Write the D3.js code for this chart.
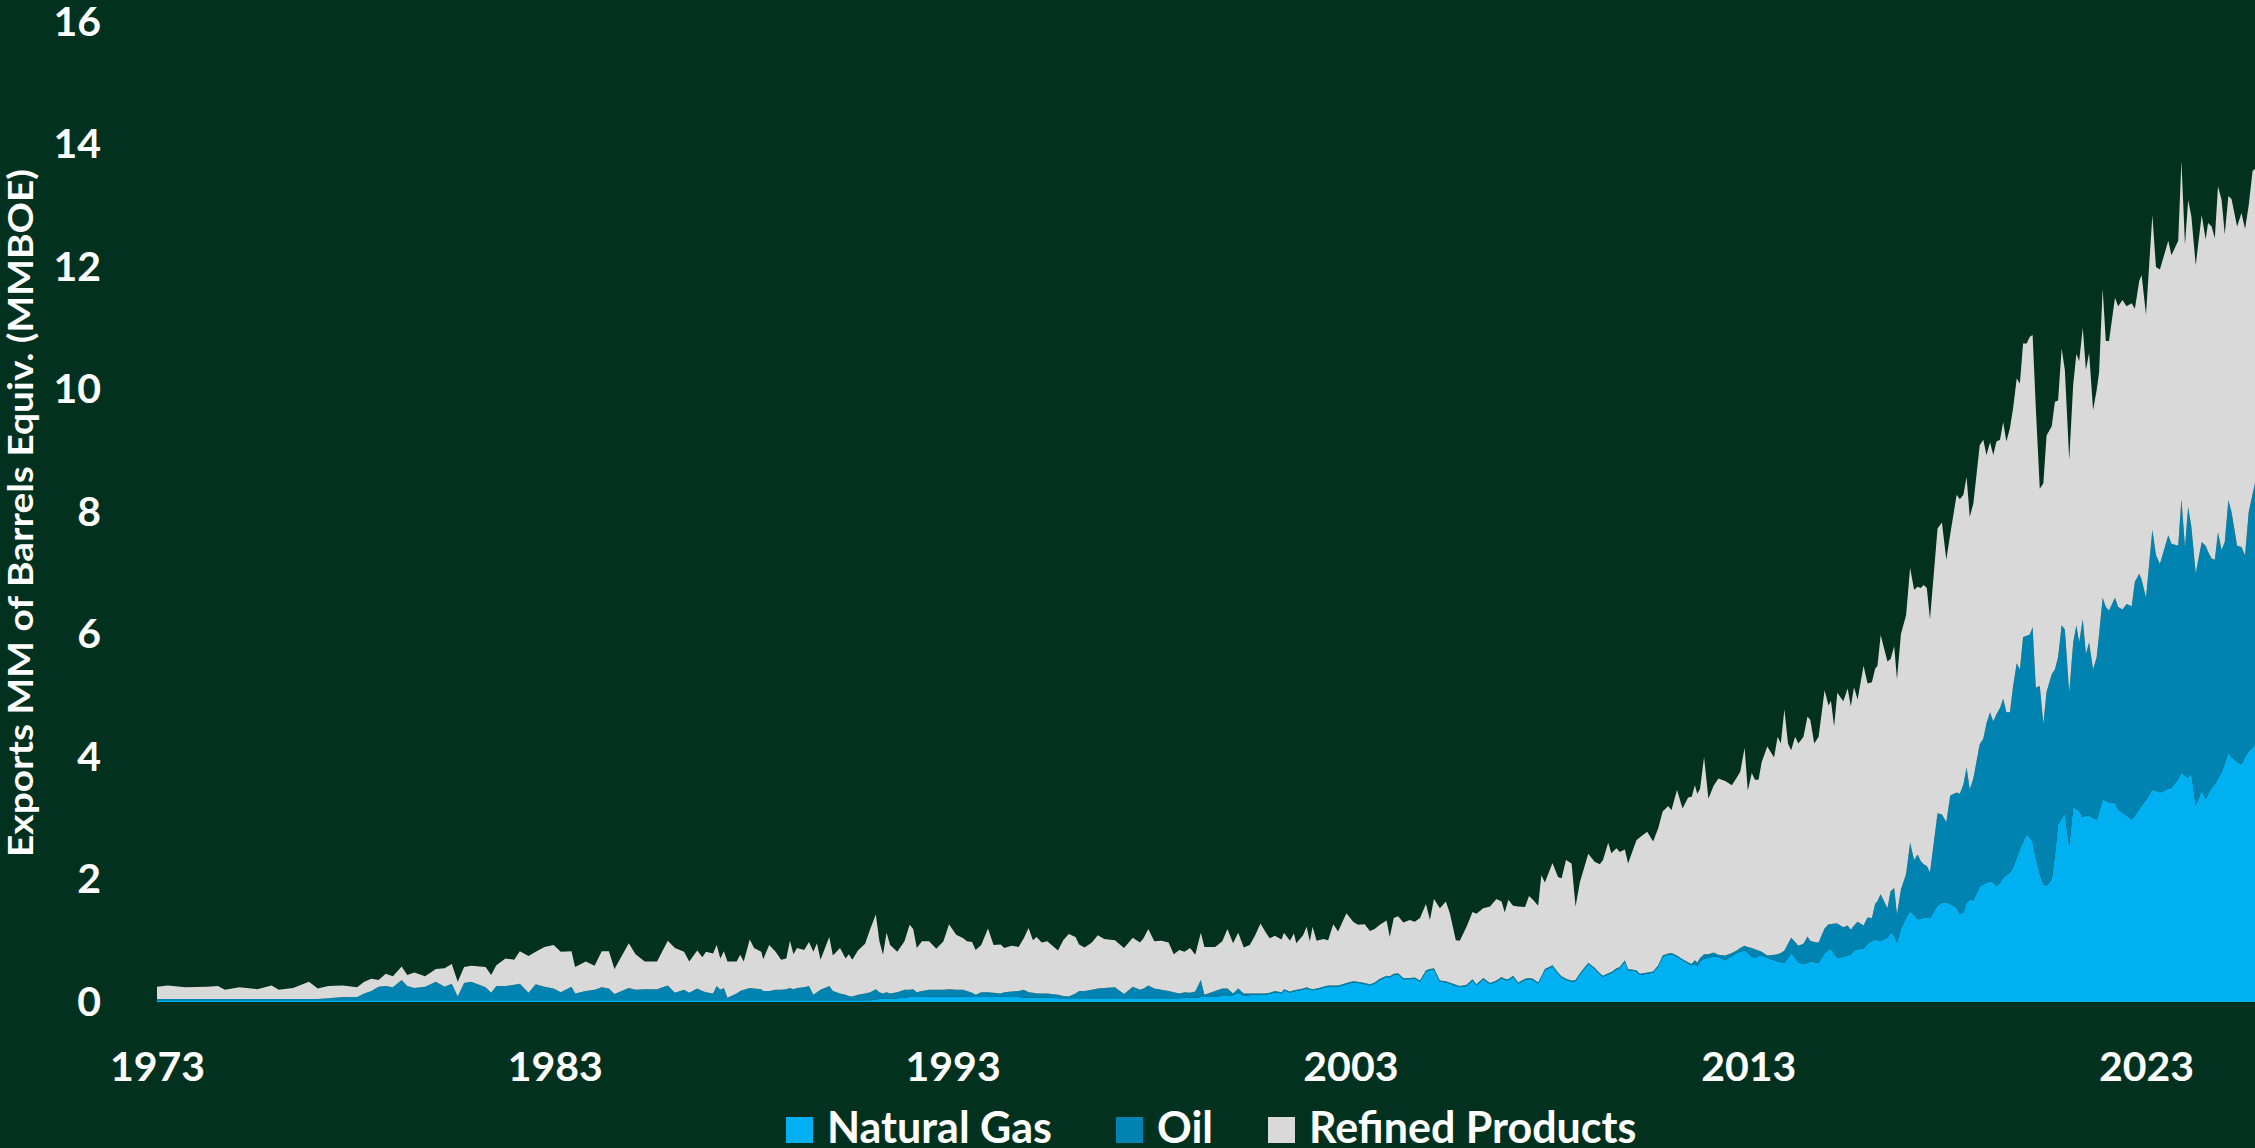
<!DOCTYPE html>
<html>
<head>
<meta charset="utf-8">
<script src="https://cdn.jsdelivr.net/npm/d3@7"></script>
<style>
  html, body { margin: 0; padding: 0; background: #03311f; overflow: hidden; }
</style>
</head>
<body>
<script>
// US energy exports, stacked by type (MMBOE)
const dates = [
  1973.00,1973.27,1973.72,1974.26,1974.53,1974.71,1975.07,1975.52,1975.88,1976.06,
  1976.42,1976.82,1977.04,1977.31,1977.67,1978.03,1978.21,1978.39,1978.57,1978.75,
  1978.93,1979.15,1979.29,1979.47,1979.74,1980.01,1980.23,1980.41,1980.56,1980.72,
  1980.90,1981.26,1981.40,1981.53,1981.76,1981.98,1982.12,1982.34,1982.52,1982.74,
  1982.97,1983.15,1983.42,1983.51,1983.78,1984.00,1984.18,1984.36,1984.50,1984.86,
  1985.03,1985.26,1985.57,1985.84,1986.02,1986.25,1986.38,1986.58,1986.71,1986.80,
  1986.98,1987.07,1987.16,1987.25,1987.34,1987.57,1987.66,1987.75,1987.90,1988.01,
  1988.19,1988.24,1988.39,1988.55,1988.69,1988.82,1988.91,1989.00,1989.09,1989.27,
  1989.39,1989.50,1989.59,1989.68,1989.90,1989.99,1990.17,1990.31,1990.39,1990.48,
  1990.62,1990.80,1990.93,1991.07,1991.16,1991.25,1991.34,1991.43,1991.61,1991.79,
  1991.92,1992.01,1992.10,1992.23,1992.41,1992.59,1992.77,1992.91,1993.09,1993.27,
  1993.36,1993.49,1993.58,1993.72,1993.89,1994.03,1994.21,1994.30,1994.48,1994.66,
  1994.79,1994.91,1995.02,1995.11,1995.24,1995.38,1995.65,1995.78,1995.92,1996.09,
  1996.18,1996.32,1996.50,1996.65,1996.81,1997.08,1997.31,1997.53,1997.71,1997.80,
  1997.92,1998.07,1998.25,1998.43,1998.56,1998.70,1998.83,1998.97,1999.10,1999.24,
  1999.33,1999.60,1999.78,1999.91,2000.05,2000.18,2000.32,2000.47,2000.60,2000.74,
  2000.85,2000.97,2001.10,2001.27,2001.33,2001.48,2001.58,2001.64,2001.81,2001.90,
  2001.98,2002.05,2002.15,2002.32,2002.44,2002.57,2002.69,2002.90,2003.07,2003.19,
  2003.36,2003.49,2003.61,2003.74,2003.91,2003.99,2004.09,2004.20,2004.33,2004.49,
  2004.62,2004.75,2004.90,2005.00,2005.10,2005.25,2005.40,2005.50,2005.65,2005.75,
  2005.92,2006.07,2006.17,2006.34,2006.51,2006.67,2006.80,2006.88,2006.97,2007.09,
  2007.22,2007.39,2007.49,2007.59,2007.72,2007.80,2007.89,2008.08,2008.22,2008.31,
  2008.42,2008.56,2008.66,2008.77,2008.98,2009.14,2009.27,2009.35,2009.48,2009.56,
  2009.69,2009.77,2009.90,2009.98,2010.19,2010.28,2010.46,2010.61,2010.74,2010.85,
  2010.99,2011.07,2011.21,2011.35,2011.49,2011.58,2011.66,2011.72,2011.79,2011.89,
  2012.00,2012.13,2012.25,2012.42,2012.59,2012.71,2012.80,2012.91,2012.99,2013.09,
  2013.17,2013.26,2013.34,2013.48,2013.65,2013.74,2013.82,2013.91,2014.00,2014.08,
  2014.18,2014.26,2014.39,2014.49,2014.56,2014.66,2014.77,2014.92,2015.02,2015.08,
  2015.16,2015.24,2015.39,2015.50,2015.58,2015.66,2015.75,2015.90,2016.00,2016.11,
  2016.19,2016.25,2016.33,2016.50,2016.58,2016.67,2016.74,2016.84,2016.97,2017.07,
  2017.17,2017.26,2017.34,2017.41,2017.49,2017.57,2017.76,2017.87,2017.98,2018.08,
  2018.24,2018.32,2018.41,2018.49,2018.57,2018.66,2018.82,2018.91,2018.99,2019.08,
  2019.16,2019.24,2019.33,2019.41,2019.49,2019.58,2019.66,2019.75,2019.83,2019.91,
  2020.00,2020.08,2020.15,2020.23,2020.33,2020.42,2020.50,2020.63,2020.71,2020.79,
  2020.88,2020.96,2021.07,2021.17,2021.25,2021.32,2021.41,2021.49,2021.57,2021.67,
  2021.76,2021.82,2021.91,2021.99,2022.07,2022.22,2022.30,2022.41,2022.51,2022.64,
  2022.72,2022.83,2022.89,2023.00,2023.16,2023.25,2023.35,2023.56,2023.64,2023.81,
  2023.89,2023.98,2024.06,2024.14,2024.25,2024.40,2024.50,2024.56,2024.65,2024.73,
  2024.81,2024.90,2024.98,2025.07,2025.15,2025.29,2025.40,2025.49,2025.58,2025.68,
  2025.74
];

const naturalGas = [
  .03,.03,.03,.03,.03,.03,.03,.03,.03,.03,
  .03,.03,.03,.03,.03,.03,.03,.03,.03,.03,
  .03,.03,.03,.03,.03,.03,.03,.03,.03,.03,
  .03,.03,.03,.03,.03,.03,.03,.03,.03,.03,
  .03,.03,.03,.03,.03,.03,.03,.03,.03,.03,
  .03,.03,.03,.03,.03,.03,.03,.03,.03,.03,
  .03,.03,.03,.03,.03,.03,.03,.03,.03,.03,
  .03,.03,.03,.03,.03,.03,.03,.03,.03,.03,
  .03,.03,.03,.03,.03,.03,.03,.03,.03,.03,
  .03,.03,.03,.04,.05,.05,.05,.05,.06,.07,
  .08,.08,.08,.08,.09,.09,.09,.09,.09,.09,
  .09,.08,.08,.08,.08,.08,.08,.08,.08,.08,
  .07,.07,.07,.07,.07,.07,.06,.06,.06,.06,
  .06,.06,.06,.06,.06,.06,.06,.06,.06,.06,
  .06,.06,.06,.06,.06,.06,.07,.07,.07,.08,
  .08,.09,.10,.10,.11,.15,.10,.11,.12,.12,
  .12,.13,.16,.14,.19,.15,.17,.18,.20,.22,
  .20,.19,.20,.23,.25,.25,.25,.29,.32,.31,
  .29,.27,.30,.36,.41,.40,.44,.45,.37,.37,
  .38,.33,.50,.52,.53,.33,.32,.30,.26,.24,
  .26,.35,.27,.37,.29,.33,.39,.36,.35,.41,
  .30,.36,.37,.36,.30,.40,.52,.58,.46,.40,
  .36,.33,.34,.45,.62,.54,.45,.41,.45,.47,
  .53,.55,.66,.52,.50,.44,.46,.48,.58,.74,
  .77,.78,.74,.68,.63,.60,.62,.58,.66,.71,
  .72,.74,.73,.68,.75,.80,.82,.84,.80,.74,
  .72,.75,.76,.72,.68,.66,.65,.64,.72,.81,
  .72,.65,.62,.64,.66,.65,.64,.80,.85,.87,
  .78,.72,.74,.76,.78,.84,.86,.87,.95,1.00,
  1.02,1.01,1.00,1.05,1.14,1.08,.97,1.20,1.38,1.48,
  1.42,1.35,1.36,1.38,1.37,1.37,1.58,1.62,1.63,1.60,
  1.54,1.44,1.46,1.63,1.67,1.66,1.89,1.92,1.95,1.97,
  1.95,1.89,1.95,2.03,2.07,2.12,2.20,2.36,2.50,2.62,
  2.74,2.68,2.62,2.35,2.10,1.92,1.90,2.00,2.40,2.90,
  3.00,3.07,2.55,3.19,3.15,3.12,3.02,3.04,3.05,3.00,
  2.98,3.10,3.31,3.28,3.26,3.25,3.15,3.09,3.05,2.98,
  3.05,3.15,3.21,3.30,3.47,3.45,3.42,3.48,3.50,3.65,
  3.75,3.70,3.66,3.74,3.21,3.45,3.31,3.40,3.50,3.56,
  3.65,3.75,3.90,4.07,4.00,3.92,3.88,4.00,4.10,4.15,
  4.23
];

const oil = [
  .02,.02,.02,.02,.02,.02,.02,.02,.02,.02,
  .02,.02,.02,.03,.05,.05,.11,.15,.22,.23,
  .21,.33,.23,.20,.22,.30,.22,.27,.06,.28,
  .30,.21,.12,.23,.23,.25,.27,.12,.26,.22,
  .19,.13,.22,.11,.15,.17,.21,.19,.10,.20,
  .17,.18,.18,.24,.12,.17,.12,.19,.15,.13,
  .11,.23,.17,.20,.04,.11,.15,.17,.20,.19,
  .18,.15,.15,.17,.17,.18,.20,.18,.20,.21,
  .23,.09,.13,.17,.23,.15,.11,.09,.07,.06,
  .09,.11,.13,.17,.11,.09,.11,.09,.10,.13,
  .12,.13,.08,.10,.11,.11,.11,.12,.11,.11,
  .09,.07,.04,.08,.08,.07,.06,.08,.09,.10,
  .13,.09,.08,.07,.07,.07,.06,.04,.03,.08,
  .12,.12,.14,.16,.17,.18,.07,.19,.14,.16,
  .21,.16,.14,.12,.10,.08,.09,.08,.10,.28,
  .04,.09,.12,.12,.03,.07,.04,.03,.02,.02,
  .02,.02,.02,.02,.02,.02,.02,.02,.02,.02,
  .02,.02,.02,.02,.02,.02,.02,.02,.02,.02,
  .02,.02,.02,.02,.02,.02,.02,.02,.02,.02,
  .02,.02,.02,.02,.02,.02,.02,.02,.02,.02,
  .02,.02,.02,.02,.02,.02,.02,.02,.02,.02,
  .02,.02,.02,.02,.02,.02,.02,.02,.02,.02,
  .02,.02,.02,.02,.02,.02,.02,.02,.02,.02,
  .02,.02,.02,.02,.02,.02,.02,.02,.02,.02,
  .02,.02,.02,.02,.02,.02,.06,.06,.06,.07,
  .06,.07,.04,.08,.05,.04,.06,.08,.10,.14,
  .14,.09,.06,.04,.09,.12,.15,.20,.23,.24,
  .26,.27,.33,.43,.34,.33,.33,.40,.42,.40,
  .50,.56,.48,.49,.40,.41,.45,.38,.43,.37,
  .58,.64,.76,.48,.67,.78,.46,.64,.71,1.12,
  .90,1.06,.94,.87,.85,.75,1.50,1.44,1.31,1.77,
  1.88,1.96,2.09,2.20,1.80,1.99,2.32,2.38,2.60,2.76,
  2.63,2.81,2.85,2.92,2.66,2.61,2.96,3.17,2.93,3.34,
  3.24,3.32,3.50,2.78,3.06,2.62,3.16,3.35,3.03,2.73,
  3.15,3.01,2.50,2.68,3.00,2.75,3.23,2.64,2.82,2.43,
  2.65,2.90,3.29,3.17,3.13,3.35,3.30,3.32,3.45,3.48,
  3.81,3.84,3.69,3.30,4.24,3.85,3.73,4.14,3.98,3.80,
  4.46,3.73,4.42,4.02,3.79,4.06,4.14,3.95,3.74,3.66,
  4.02,3.63,3.61,4.12,4.00,3.53,3.55,3.29,3.89,4.15,
  4.24
];

const refinedProducts = [
  .20,.22,.19,.20,.21,.15,.19,.16,.22,.15,
  .18,.28,.17,.20,.19,.16,.19,.20,.11,.20,
  .18,.22,.18,.25,.17,.21,.30,.32,.24,.26,
  .26,.33,.29,.34,.45,.41,.53,.60,.53,.65,
  .71,.66,.58,.43,.48,.39,.59,.61,.41,.73,
  .58,.45,.45,.73,.73,.62,.51,.62,.55,.66,
  .65,.67,.51,.60,.59,.52,.59,.46,.79,.66,
  .61,.52,.75,.62,.49,.50,.77,.57,.65,.61,
  .72,.70,.80,.49,.80,.58,.74,.59,.68,.60,
  .72,.81,1.03,1.22,.83,.63,.97,.79,.66,.79,
  1.06,.98,.72,.81,.79,.67,.79,1.06,.90,.84,
  .81,.83,.73,.77,1.04,.78,.80,.72,.75,.72,
  .84,1.05,.86,.92,.83,.85,.72,.91,1.02,.92,
  .76,.71,.77,.87,.80,.77,.75,.80,.77,.82,
  .92,.77,.80,.79,.62,.71,.66,.73,.60,.77,
  .78,.72,.77,.97,.82,.91,.75,.79,.94,1.14,
  1.02,.89,.90,.86,.92,.83,.93,.76,.87,.99,
  .77,1.02,.78,.78,.74,1.00,.88,1.14,.97,.93,
  .96,.87,.87,.88,.90,.64,.91,.93,.91,.95,
  .91,1.02,1.08,.80,1.13,1.18,1.30,1.13,.73,.74,
  .95,1.10,1.15,1.14,1.25,1.33,1.23,1.08,1.30,1.14,
  1.24,1.17,1.34,1.29,1.25,1.65,1.41,1.67,1.56,1.60,
  1.94,1.91,1.20,1.49,1.78,1.73,1.78,1.89,2.13,1.94,
  1.96,1.88,1.81,1.72,2.12,2.23,2.30,2.12,2.24,2.35,
  2.41,2.33,2.70,2.46,2.69,2.73,2.86,2.76,2.76,3.22,
  2.54,2.72,2.88,2.85,2.74,2.82,2.88,3.23,2.55,2.86,
  2.77,2.79,3.10,3.41,3.22,3.55,3.42,3.94,3.27,3.06,
  3.35,3.30,3.38,3.59,3.61,3.24,3.36,3.89,3.57,3.65,
  3.22,3.77,3.69,3.87,3.65,3.89,3.63,4.24,3.82,3.85,
  3.84,3.84,4.23,4.03,3.79,3.95,3.84,4.17,4.23,4.49,
  4.41,4.37,4.46,4.56,4.54,4.13,4.65,4.77,4.28,4.27,
  4.86,4.81,4.73,4.74,4.45,4.49,4.88,4.88,4.38,4.41,
  4.35,4.45,4.38,4.52,4.42,4.64,4.54,4.65,4.67,4.79,
  4.77,4.86,4.77,4.57,3.22,3.93,4.19,4.05,4.37,4.19,
  4.52,4.24,3.80,4.21,4.43,4.59,4.76,4.64,4.73,4.23,
  4.36,4.27,5.05,4.34,4.40,4.90,4.91,5.05,4.86,4.95,
  4.46,4.78,4.97,4.62,5.14,4.70,4.81,4.81,4.71,4.98,
  5.52,4.93,5.02,5.07,5.03,5.34,5.00,5.37,5.42,5.25,
  5.65,5.72,5.02,4.97,5.11,5.21,5.45,5.33,5.01,5.27,
  5.13
];

const seriesNames = ["Natural Gas", "Oil", "Refined Products"];
const seriesColors = ["#00b0f0", "#0083b0", "#d9d9d9"];
const yTicks = [0, 2, 4, 6, 8, 10, 12, 14, 16];
const xTicks = [1973, 1983, 1993, 2003, 2013, 2023];
const yTitle = "Exports MM of Barrels Equiv. (MMBOE)";

const width = 2255, height = 1148;
const font = "Lato, 'Open Sans', sans-serif";

const svg = d3.select("body").append("svg")
  .attr("width", width)
  .attr("height", height)
  .style("display", "block");

svg.append("rect").attr("width", width).attr("height", height).attr("fill", "#03311f");

// scales: first tick year sits at x=157, 2023 at x=2146
const x = d3.scaleLinear().domain([1973, 2023]).range([157, 2146]);
const y = d3.scaleLinear().domain([0, 16]).range([1002, 22]);

const keys = ["gas", "oil", "refined"];
const table = dates.map((d, i) => ({
  date: d,
  gas: naturalGas[i],
  oil: oil[i],
  refined: refinedProducts[i]
}));
const layers = d3.stack().keys(keys)(table);

const area = d3.area()
  .x(d => x(d.data.date))
  .y0(d => y(d[0]))
  .y1(d => y(d[1]));

svg.append("g")
  .selectAll("path")
  .data(layers)
  .join("path")
  .attr("d", area)
  .attr("fill", (d, i) => seriesColors[i]);

// y axis
const yAxis = svg.append("g")
  .attr("transform", "translate(108,0)")
  .call(d3.axisLeft(y).tickValues(yTicks).tickSize(0).tickPadding(7));
yAxis.select(".domain").remove();
yAxis.selectAll("text")
  .attr("fill", "#ffffff")
  .style("font-family", font)
  .style("font-weight", 700)
  .style("font-size", "41px");

// x axis
const xAxis = svg.append("g")
  .attr("transform", "translate(0,1002)")
  .call(d3.axisBottom(x).tickValues(xTicks).tickFormat(d3.format("d")).tickSize(0).tickPadding(50));
xAxis.select(".domain").remove();
xAxis.selectAll("text")
  .attr("fill", "#ffffff")
  .style("font-family", font)
  .style("font-weight", 700)
  .style("font-size", "41px");

// y axis title
svg.append("text")
  .attr("transform", "translate(33,513) rotate(-90)")
  .attr("text-anchor", "middle")
  .attr("fill", "#ffffff")
  .attr("textLength", 688)
  .attr("lengthAdjust", "spacingAndGlyphs")
  .style("font-family", font)
  .style("font-weight", 700)
  .style("font-size", "35px")
  .text(yTitle);

// legend
const legendX = [786, 1116, 1268];
const legend = svg.append("g");
legend.selectAll("rect")
  .data(seriesNames)
  .join("rect")
  .attr("x", (d, i) => legendX[i])
  .attr("y", 1117)
  .attr("width", 27)
  .attr("height", 26)
  .attr("fill", (d, i) => seriesColors[i]);
legend.selectAll("text")
  .data(seriesNames)
  .join("text")
  .attr("x", (d, i) => legendX[i] + 41)
  .attr("y", 1143)
  .attr("fill", "#ffffff")
  .style("font-family", font)
  .style("font-weight", 700)
  .style("font-size", "43px")
  .text(d => d);
</script>
</body>
</html>
